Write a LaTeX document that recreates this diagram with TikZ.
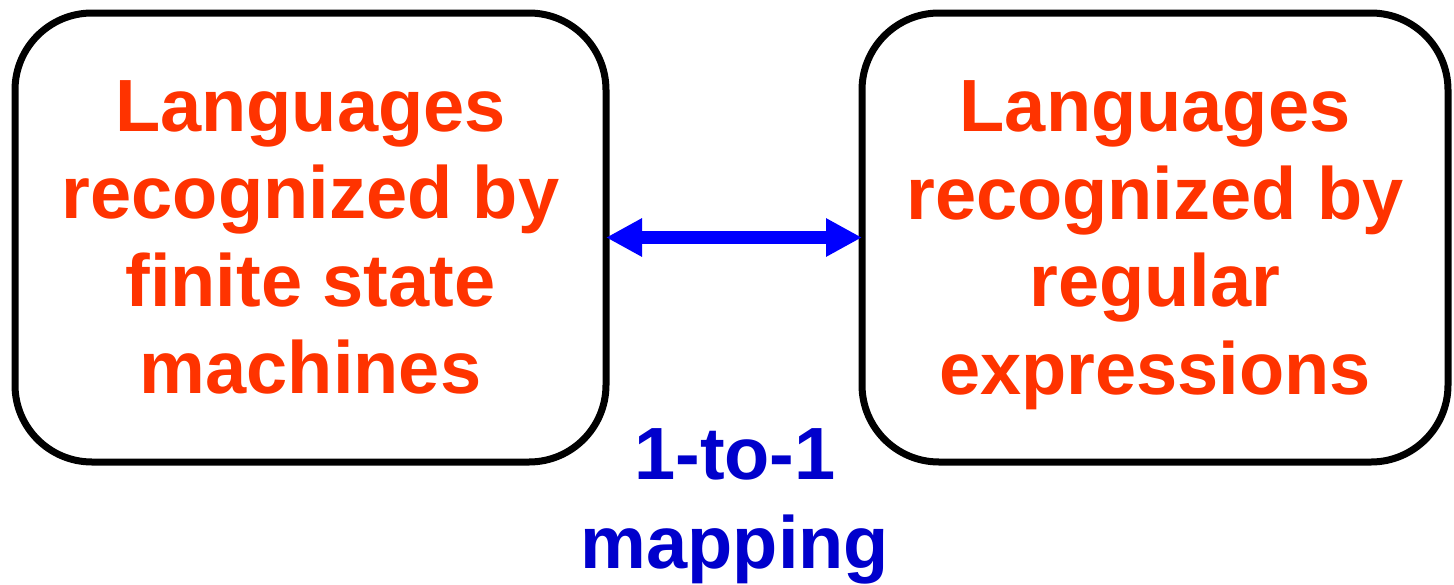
\documentclass[tikz,border=0pt]{standalone}
\usepackage{fontspec}
\setmainfont{Liberation Sans}
\usetikzlibrary{arrows.meta}
\definecolor{txtred}{HTML}{FF3300}
\definecolor{txtblue}{HTML}{0000CC}
\begin{document}
\begin{tikzpicture}[x=1pt,y=-1pt,
  box/.style={draw=black,line width=7pt,rounded corners=77pt,outer sep=0pt,
    minimum width=591pt,minimum height=449pt,inner sep=0pt,
    align=center,text=txtred,font=\fontsize{74}{87.5}\selectfont\bfseries},
  maplabel/.style={align=center,text=txtblue,inner sep=0pt,
    font=\fontsize{74}{89}\selectfont\bfseries},
  dblarrow/.style={draw=blue,line width=13pt,
    {Triangle[length=36pt,width=36pt]}-{Triangle[length=36pt,width=36pt]}}]
\useasboundingbox (0,0) rectangle (1454,584);
\node[box] (L) at (310.5,237.5) {Languages\\recognized by\\finite state\\machines};
\node[box,minimum width=586pt] (R) at (1155,237.5) {Languages\\recognized by\\regular\\\raisebox{0pt}[\height][0pt]{expressions}};
\draw[dblarrow] (L.east) -- (R.west);
\node[maplabel] (M) at (735,506) {1-to-1\\mapping};
\end{tikzpicture}
\end{document}
